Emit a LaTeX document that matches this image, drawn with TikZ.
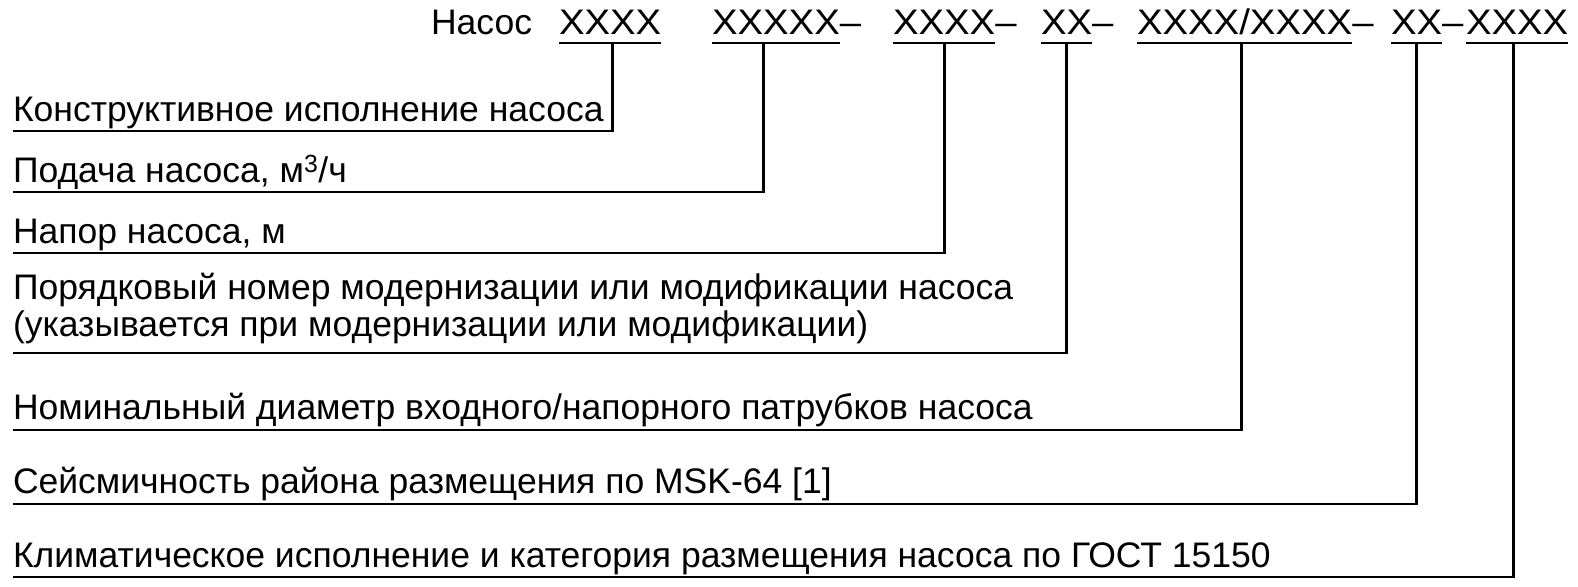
\documentclass[tikz,border=0pt]{standalone}
\usepackage{fontspec}
\setmainfont{Liberation Sans}
\newfontfamily\codefont[FakeStretch=1.08]{Liberation Sans}
\begin{document}
\begin{tikzpicture}[x=1pt,y=1pt,
  txt/.style={inner sep=0pt, outer sep=0pt, font=\fontsize{35.5}{37}\selectfont},
  code/.style={txt, anchor=base west, font=\fontsize{35.5}{37}\codefont},
  lbl/.style={txt, anchor=south west, text depth=0pt, align=left},
  conn/.style={line width=2.7pt, line cap=butt, line join=miter},
  ul/.style={line width=2.5pt}]
\useasboundingbox (0,0) rectangle (1578,-586);
% title row
\node[txt, anchor=base west] (t0) at (431,-35) {Насос};
\node[code] (c1) at (559,-35) {XXXX};
\node[code] (c2) at (712,-35) {XXXXX};
\node[code] (d2) at (c2.base east) {–};
\node[code] (c3) at (893,-35) {XXXX};
\node[code] (d3) at (c3.base east) {–};
\node[code] (c4) at (1041,-35) {XX};
\node[code] (d4) at (c4.base east) {–};
\node[code] (c5) at (1137,-35) {XXXX/XXXX};
\node[code] (d5) at (c5.base east) {–};
\node[code] (c6) at (1391,-35) {XX};
\node[code] (d6) at (c6.base east) {–};
\node[code] (c7) at (1466,-35) {XXXX};
\foreach \c in {c1,c2,c3,c4,c5,c6,c7}{
  \draw[ul] ([yshift=-8pt]\c.base west) -- ([yshift=-8pt]\c.base east);
}
% labels
\node[lbl] (l1) at (13,-121) {Конструктивное исполнение насоса};
\node[lbl] (l2) at (13,-182) {Подача насоса, м\textsuperscript{3}/ч};
\node[lbl] (l3) at (13,-243) {Напор насоса, м};
\node[lbl] (l4) at (13,-336) {Порядковый номер модернизации или модификации насоса\\(указывается при модернизации или модификации)};
\node[lbl] (l5) at (13,-419) {Номинальный диаметр входного/напорного патрубков насоса};
\node[lbl] (l6) at (13,-493) {Сейсмичность района размещения по MSK-64 [1]};
\node[lbl] (l7) at (13,-567) {Климатическое исполнение и категория размещения насоса по ГОСТ 15150};
% connectors
\draw[conn] ([yshift=-10pt]l1.south west) -| ([xshift=2pt,yshift=-8pt]c1.base);
\draw[conn] ([yshift=-10pt]l2.south west) -| ([xshift=-12.5pt,yshift=-8pt]c2.base);
\draw[conn] ([yshift=-10pt]l3.south west) -| ([yshift=-8pt]c3.base);
\draw[conn] ([yshift=-17pt]l4.south west) -| ([yshift=-8pt]c4.base);
\draw[conn] ([yshift=-11pt]l5.south west) -| ([xshift=-3pt,yshift=-8pt]c5.base);
\draw[conn] ([yshift=-11pt]l6.south west) -| ([yshift=-8pt]c6.base);
\draw[conn] ([yshift=-10pt]l7.south west) -| ([xshift=-4pt,yshift=-8pt]c7.base);
\end{tikzpicture}
\end{document}
